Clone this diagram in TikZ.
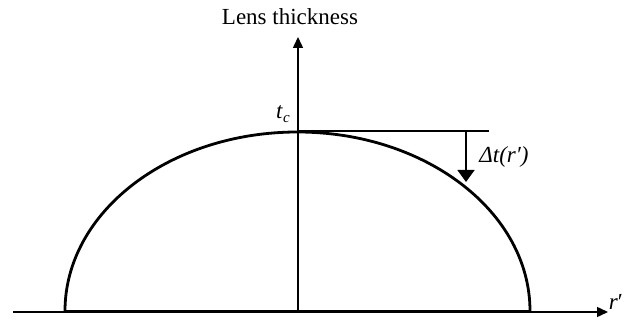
\documentclass[tikz,border=0pt]{standalone}
\usepackage{fontspec}
\setmainfont{Liberation Serif}
\usetikzlibrary{arrows.meta}
\begin{document}
\begin{tikzpicture}[x=1pt,y=-1pt,
  axis/.style={line width=1.5pt,-{Triangle[length=11pt,width=10pt]}},
  lens/.style={line width=2.8pt},
  lbl/.style={inner sep=0pt,font=\fontsize{23}{27}\selectfont},
  darrow/.style={line width=1.5pt,-{Triangle[length=12pt,width=17pt]}}]
\useasboundingbox (0,0) rectangle (633,320);
% axes
\coordinate (xs) at (13,312);
\coordinate (xe) at (608,312);
\coordinate (ys) at (298,312);
\coordinate (ye) at (298,37);
\draw[axis] (xs) -- (xe);
\draw[axis] (ys) -- (ye);
% lens
\coordinate (lf) at (65,311);
\coordinate (rf) at (530,311);
\draw[lens] (lf) -- (rf);
\draw[lens] (rf) arc[start angle=0,end angle=-180,x radius=232.5,y radius=179];
% top line
\coordinate (tl) at (298,131);
\coordinate (tr) at (489,131);
\draw[line width=1.5pt] (tl) -- (tr);
% delta arrow
\coordinate (ds) at (466,131);
\coordinate (de) at (466,182);
\draw[darrow] (ds) -- (de);
% labels
\node[lbl] (lt) at (290,17) {Lens thickness};
\node[lbl] (tc) at (283,114) {\textit{t}\raisebox{-0.35ex}{\fontsize{15}{18}\selectfont\textit{c}}};
\node[lbl] (dt) at (504,157) {\textit{Δt(r′)}};
\node[lbl] (rp) at (616,302) {\textit{r}′};
\end{tikzpicture}
\end{document}
